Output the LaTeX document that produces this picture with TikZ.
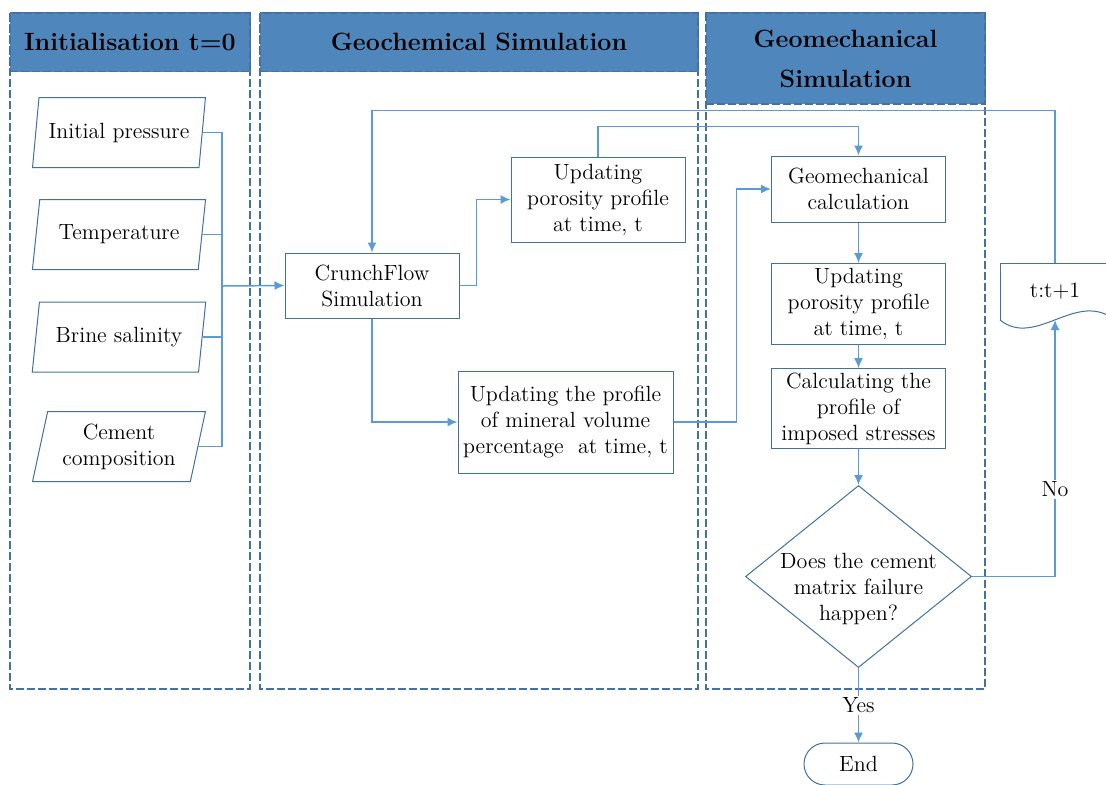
\documentclass[tikz,border=0pt]{standalone}
\usetikzlibrary{shapes.geometric,arrows.meta}

\definecolor{headblue}{RGB}{79,135,189}
\definecolor{laneblue}{RGB}{65,113,166}
\definecolor{boxblue}{RGB}{65,113,156}
\definecolor{linkblue}{RGB}{91,155,213}

\begin{document}
\begin{tikzpicture} [x=0.5pt, y=-0.5pt, >={Latex[length=5pt,width=4.5pt]},
    every node/.style={font=\fontsize{11}{13}\selectfont},
    box/.style={draw=boxblue, line width=0.5pt, align=center, minimum width=87pt, inner sep=2pt},
    inbox/.style={trapezium, trapezium left angle=76, trapezium right angle=104,
        trapezium stretches=true, draw=boxblue, line width=0.5pt, align=center,
        minimum width=87pt, minimum height=35pt, inner sep=1pt},
    decide/.style={diamond, aspect=1.24, draw=boxblue, line width=0.5pt,
        minimum width=113pt, minimum height=91pt},
    lane/.style={draw=laneblue, dash pattern=on 4pt off 1.5pt, line width=0.6pt},
    head/.style={fill=headblue, draw=laneblue, dash pattern=on 4pt off 1.5pt, line width=0.6pt,
        inner sep=0pt, align=center, font=\fontsize{12.5}{20}\selectfont\bfseries},
    link/.style={draw=linkblue, line width=0.75pt}]

    \useasboundingbox (0,0) rectangle (1106,784);
    \clip (0,0) rectangle (1106,784);

    % swim lanes
    \draw[lane] (10,13) rectangle (250,689);
    \draw[lane] (260,13) rectangle (698,689);
    \draw[lane] (706,13) rectangle (985,689);
    \node[head, minimum width=120pt, minimum height=29.25pt] (h1) at (130,42.25) {Initialisation t=0};
    \node[head, minimum width=219pt, minimum height=29.25pt] (h2) at (479,42.25) {Geochemical Simulation};
    \node[head, minimum width=139.5pt, minimum height=45.5pt] (h3) at (845.5,58.5) {Geomechanical\\Simulation};

    % inputs
    \node[inbox] (pres) at (119,132.5) {Initial pressure};
    \node[inbox] (temp) at (119,234.5) {Temperature};
    \node[inbox] (brine) at (119,337) {Brine salinity};
    \node[inbox] (cem) at (119,446.5) {Cement\\composition};

    % geochemical part
    \node[box, minimum height=32.5pt] (crunch) at (372,285.5) {CrunchFlow\\Simulation};
    \node[box, minimum height=42.5pt] (poro) at (598,199.5) {Updating\\porosity profile\\at time, t};
    \node[box, minimum width=107.5pt, minimum height=51pt] (mineral) at (565.5,422)
        {Updating the profile\\of mineral volume\\percentage\ \ at time, t};

    % geomechanical part
    \node[box, minimum height=33pt] (gcalc) at (858.5,189) {Geomechanical\\calculation};
    \node[box, minimum height=40.5pt] (gporo) at (858.5,304) {Updating\\porosity profile\\at time, t};
    \node[box, minimum height=38.5pt] (stress) at (858.5,408.5) {Calculating the\\profile of\\imposed stresses};
    % text sits a bit below the middle of the diamond
    \node[decide] (dec) at (858.5,576.5)
        {\raisebox{-9pt}[0pt][0pt]{\begin{tabular}{@{}c@{}}Does the cement\\matrix failure\\happen?\end{tabular}}};
    \node[draw=boxblue, line width=0.5pt, rounded corners=10.5pt, minimum width=54.5pt,
        minimum height=21pt] (finish) at (858.5,764) {End};

    % time step document
    \node[minimum width=55pt, minimum height=28.5pt] (step) at (1055,291.5) {t:t+1};
    \draw[boxblue, line width=0.5pt] (1000,320) -- (1000,263) -- (1112,263);
    \draw[boxblue, line width=0.5pt] (1000,320) .. controls (1035,348) and (1075,292) .. (1112,318);
    \coordinate (wave) at (1055,320);

    % inputs to the bus
    \coordinate (jn) at (222,286);
    \draw[link] (pres.east) -| (jn);
    \draw[link] (cem.east) -| (jn);
    \draw[link] (temp.east) -- (temp.east -| jn);
    \draw[link] (brine.east) -- (brine.east -| jn);
    \draw[link,->] (jn) -- (crunch.west);

    % flow through the lanes
    \draw[link,->] (crunch.east) -- ++(17,0) |- (poro.west);
    \draw[link,->] (crunch.south) |- (mineral.west);
    \draw[link,->] (poro.north) -- ++(0,-30) -| (gcalc.north);
    \draw[link,->] (mineral.east) -- ++(63,0) |- (gcalc.west);
    \draw[link,->] (gcalc.south) -- (gporo.north);
    \draw[link,->] (gporo.south) -- (stress.north);
    \draw[link,->] (stress.south) -- (dec.north);
    \draw[link,->] (dec.south) -- node[fill=white, inner sep=1pt] {Yes} (finish.north);
    \draw[link,->] (dec.east) -| node[pos=0.67, fill=white, inner sep=1pt] {No} (wave);
    \draw[link,->] (step.north) -- ++(0,-152) -| (crunch.north);

\end{tikzpicture}
\end{document}
